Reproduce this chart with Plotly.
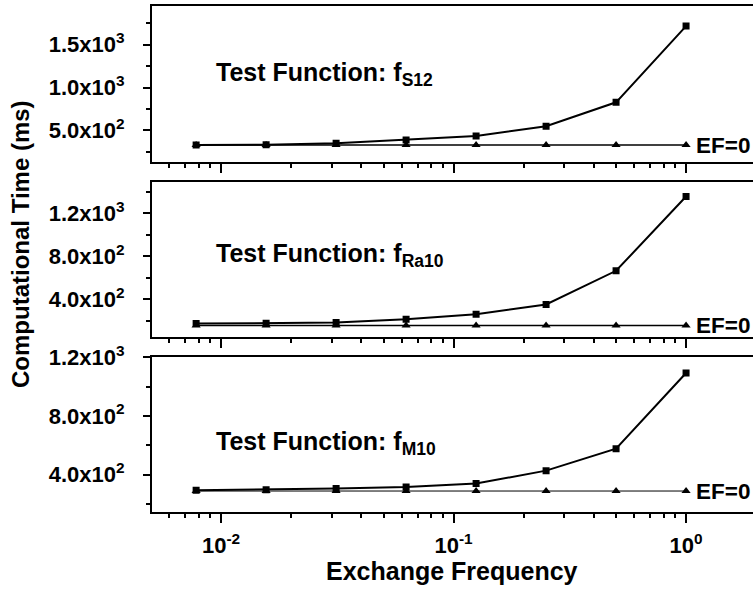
import math
import plotly.graph_objects as go

# Exchange frequencies (1/128 ... 1)
freq = [1/128, 1/64, 1/32, 1/16, 1/8, 1/4, 1/2, 1]

# Computational time (ms) for each test function
s12_time = [328, 330, 348, 387, 433, 547, 827, 1718]
s12_ef0 = [328, 328, 328, 328, 328, 328, 328, 328]

ra10_time = [173, 175, 182, 213, 260, 351, 664, 1355]
ra10_ef0 = [155, 155, 155, 155, 155, 155, 155, 155]

m10_time = [293, 297, 305, 316, 339, 427, 577, 1093]
m10_ef0 = [288, 288, 288, 288, 288, 288, 288, 288]

panel_names = ["S12", "Ra10", "M10"]

# y-axis ticks per panel
y_ranges = [[133, 1956], [51, 1490], [147, 1200]]
y_major = [[500, 1000, 1500], [400, 800, 1200], [400, 800, 1200]]
y_labels = [
    ["5.0x10<sup>2</sup>", "1.0x10<sup>3</sup>", "1.5x10<sup>3</sup>"],
    ["4.0x10<sup>2</sup>", "8.0x10<sup>2</sup>", "1.2x10<sup>3</sup>"],
    ["4.0x10<sup>2</sup>", "8.0x10<sup>2</sup>", "1.2x10<sup>3</sup>"],
]
y_minor = [[250, 750, 1250, 1750], [200, 600, 1000, 1400], [200, 600, 1000]]

x_major = [0.01, 0.1, 1]
x_labels = ["10<sup>-2</sup>", "10<sup>-1</sup>", "10<sup>0</sup>"]
x_minor = [m * 10.0**e for e in (-3, -2, -1, 0) for m in range(2, 10)
           if 0.005 <= m * 10.0**e <= 1.9 and m * 10.0**e not in x_major]

FONT = "Liberation Sans, Arial, sans-serif"
W, H = 753, 590
ML = 152

domains = [[0.72593, 0.99034], [0.42932, 0.69153], [0.13271, 0.39441]]
text_y = [0.56, 0.53, 0.445]
ef0_width = [1.5, 1.5, 1.0]

series = [(s12_time, s12_ef0), (ra10_time, ra10_ef0), (m10_time, m10_ef0)]

fig = go.Figure()
layout = dict(
    width=W, height=H,
    margin=dict(l=ML, r=0, t=0, b=0, pad=0),
    paper_bgcolor="white", plot_bgcolor="white",
    showlegend=False,
    font=dict(family=FONT, color="black"),
)
annotations = []

x_lo = math.log10(0.005) + 0.004
x_hi = x_lo + (W - ML) / 232.5

for i, (times, ef0) in enumerate(series):
    n = i + 1
    xa = "x" if n == 1 else f"x{n}"
    ya = "y" if n == 1 else f"y{n}"
    fig.add_trace(go.Scatter(
        x=freq, y=times, xaxis=xa, yaxis=ya, mode="lines+markers",
        line=dict(color="black", width=2),
        marker=dict(symbol="square", size=7, color="black"),
    ))
    fig.add_trace(go.Scatter(
        x=freq, y=ef0, xaxis=xa, yaxis=ya, mode="lines+markers",
        line=dict(color="black", width=ef0_width[i]),
        marker=dict(symbol="triangle-up", size=8, color="black"),
    ))

    last = (i == 2)
    layout[f"xaxis{'' if n == 1 else n}"] = dict(
        type="log", range=[x_lo, x_hi], domain=[0, 1], anchor=ya,
        automargin=False,
        showline=True, linecolor="black", linewidth=2, mirror=True,
        showgrid=False, zeroline=False,
        ticks="outside", ticklen=9, tickwidth=2, tickcolor="black",
        tickmode="array", tickvals=x_major,
        ticktext=x_labels if last else ["", "", ""],
        showticklabels=last,
        tickfont=dict(size=22, family=FONT, weight="bold"),
        ticklabelstandoff=4,
        minor=dict(tickmode="array", tickvals=x_minor, ticks="outside",
                   ticklen=4, tickwidth=1.5, tickcolor="black"),
    )
    layout[f"yaxis{'' if n == 1 else n}"] = dict(
        range=y_ranges[i], domain=domains[i], anchor=xa,
        automargin=False,
        showline=True, linecolor="black", linewidth=2,
        showgrid=False, zeroline=False,
        ticks="outside", ticklen=7, tickwidth=2, tickcolor="black",
        tickmode="array", tickvals=y_major[i], ticktext=y_labels[i],
        tickfont=dict(size=22, family=FONT, weight="bold"),
        ticklabelstandoff=14,
        minor=dict(tickmode="array", tickvals=y_minor[i], ticks="outside",
                   ticklen=4, tickwidth=1.5, tickcolor="black"),
    )

    annotations.append(dict(
        xref="paper", yref=f"{ya} domain", x=(214 - ML) / (W - ML), y=text_y[i],
        xanchor="left", yanchor="middle", showarrow=False,
        text=f"Test Function: f<sub>{panel_names[i]}</sub>",
        font=dict(size=25, family=FONT, weight="bold"),
    ))
    annotations.append(dict(
        xref=xa, yref=ya, x=math.log10(freq[-1]), y=ef0[-1],
        xanchor="left", yanchor="middle", xshift=8, showarrow=False,
        text="EF=0", font=dict(size=22.5, family=FONT, weight="bold"),
    ))

annotations.append(dict(
    xref="paper", yref="paper", x=(21 - ML) / (W - ML), y=1 - 244 / H,
    xanchor="center", yanchor="middle", textangle=-90, showarrow=False,
    text="Computational Time (ms)",
    font=dict(size=24, family=FONT, weight="bold"),
))
annotations.append(dict(
    xref="paper", yref="paper", x=(452 - ML) / (W - ML), y=1 - 571 / H,
    xanchor="center", yanchor="middle", showarrow=False,
    text="Exchange Frequency",
    font=dict(size=25, family=FONT, weight="bold"),
))

layout["annotations"] = annotations
fig.update_layout(**layout)
fig.write_html("out.html")
